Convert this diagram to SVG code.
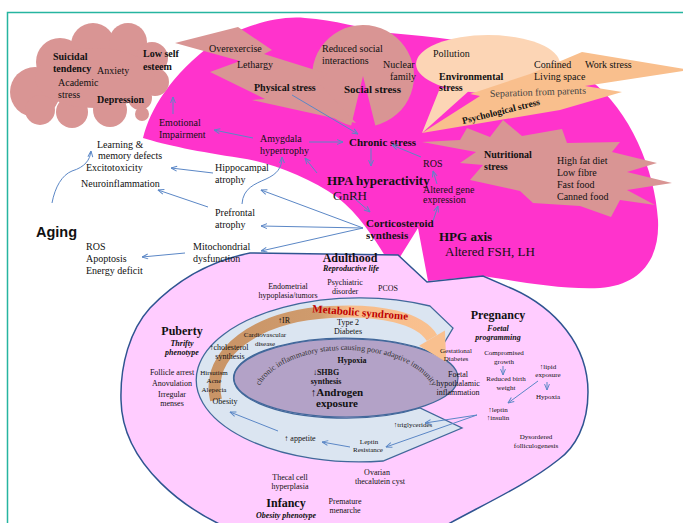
<svg xmlns="http://www.w3.org/2000/svg" width="683" height="523" viewBox="0 0 683 523">
<style>
.t{font-family:"Liberation Serif","Times New Roman",serif;fill:#111}
.f10{font-size:10px}.f8{font-size:8px}.f75{font-size:7px}.f85{font-size:8px}.f11{font-size:11px}.f12{font-size:12px}.f13{font-size:13px}
.b{font-weight:bold}.i{font-style:italic}.m{text-anchor:middle}
.c{fill:none;stroke:#5b87c6;stroke-width:1;marker-end:url(#ah)}
.dp{fill:#d99594}
.arc{font-family:"Liberation Serif","Times New Roman",serif;font-size:8px;fill:#333}
</style>
<defs>
<marker id="ah" viewBox="0 0 10 10" refX="9.5" refY="5" markerWidth="7" markerHeight="7" markerUnits="userSpaceOnUse" orient="auto"><path d="M1,1.5 L9.5,5 L1,8.5" fill="none" stroke="#5b87c6" stroke-width="1.4"/></marker>
<linearGradient id="og" gradientUnits="userSpaceOnUse" x1="210" y1="0" x2="450" y2="0"><stop offset="0" stop-color="#c99466"/><stop offset="0.45" stop-color="#cf9b6d"/><stop offset="0.58" stop-color="#f7bd8b"/><stop offset="1" stop-color="#f9c190"/></linearGradient>
<path id="arcText" d="M261.4,417.1 A90 50 0 1 1 430.6,417.1"/>
</defs>
<rect x="0" y="0" width="683" height="523" fill="#fff"/>
<rect x="7.5" y="12.5" width="690" height="520" fill="none" stroke="#26b5a0" stroke-width="1.5"/>

<g id="regions">
<path id="stress-field" fill="#ff33cc" d="M143,138 C150,110 170,75 215,42 C240,28 275,15 305,18 C335,20 360,28 390,33 C470,40 540,50 590,80 C630,110 655,170 658,220 C660,260 640,285 600,288 C560,290 510,280 483,276 L428,281 L418,228 L400,257 L387,259 C375,240 360,215 337,197 C310,178 270,162 240,158 C200,152 165,145 143,138 Z"/>
<path id="life-course" fill="#ffccff" stroke="#2f5491" stroke-width="1.5" d="M250,253 L398,255 L427,282 L483,276 L513,289 C555,308 588,345 588,392 C588,425 575,448 558,460 C520,490 470,510 420,540 L260,540 C180,515 122,460 121,400 C120,365 130,330 150,308 C172,285 205,262 250,253 Z"/>
<path id="metabolic-band" fill="#dbe5f1" stroke="#41689a" stroke-width="1.3" d="M430,306 A163 82 0 1 0 383,461 L462,428 L420,408 A112 40 0 1 1 437,355 L453,328 Z"/>
<ellipse id="inflammation-core" cx="346" cy="378" rx="112" ry="39" fill="#b3a2c7" stroke="#41689a" stroke-width="1.2"/>
<path d="M216,400 C205,352 258,316 330,312 C380,309 420,318 432,338" fill="none" stroke="url(#og)" stroke-width="12"/>
<polygon points="419.1,345.7 444.9,330.4 446.3,362.1" fill="#f9c08f"/>
</g>

<g id="psych-cloud">
<g class="dp">
<circle cx="35" cy="92" r="25"/><circle cx="60" cy="62" r="24"/><circle cx="93" cy="45" r="22"/><circle cx="128" cy="42" r="19"/><circle cx="152" cy="58" r="16"/><circle cx="155" cy="82" r="14"/><circle cx="140" cy="98" r="12"/><circle cx="110" cy="110" r="17"/><circle cx="72" cy="112" r="16"/><circle cx="40" cy="110" r="15"/><ellipse cx="95" cy="78" rx="60" ry="30"/><circle cx="142" cy="114" r="7"/>
</g>
<text class="t f10 b" x="53" y="60">Suicidal</text>
<text class="t f10 b" x="53" y="72">tendency</text>
<text class="t f10" x="97" y="74">Anxiety</text>
<text class="t f10" x="58" y="86">Academic</text>
<text class="t f10" x="58" y="98">stress</text>
<text class="t f10 b" x="97" y="103">Depression</text>
<text class="t f10 b" x="143" y="57">Low self</text>
<text class="t f10 b" x="143" y="70">esteem</text>
</g>

<g id="social-stress">
<path class="dp" d="M363,76 L351.2,125.6 A51 51 0 1 1 375.3,125.5 Z"/>
<text class="t f10" x="322" y="52">Reduced social</text>
<text class="t f10" x="322" y="64">interactions</text>
<text class="t f10" x="383" y="68">Nuclear</text>
<text class="t f10" x="390" y="80">family</text>
<text class="t f11 b" x="344" y="93">Social stress</text>
</g>

<g id="physical-stress">
<polygon class="dp" points="175,43 238,27 272,50 264,54 328,74 316,80 356,123 252,100 265,99 210,72 240,61"/>
<text class="t f10" x="209" y="52">Overexercise</text>
<text class="t f10" x="237" y="68">Lethargy</text>
<text class="t f10 b" x="254" y="91">Physical stress</text>
</g>

<g id="environmental-stress">
<ellipse cx="488" cy="64" rx="72" ry="29" fill="#fcd5b5"/>
<polygon points="440,88 422,133 470,90" fill="#fcd5b5"/>
<text class="t f10" x="433" y="57">Pollution</text>
<text class="t f10 b" x="439" y="80">Environmental</text>
<text class="t f10 b" x="439" y="91">stress</text>
</g>

<g id="psychological-stress">
<polygon points="422,133 480,96 470,94 530,74 582,52 690,70 585,86 622,92 560,110" fill="#f9bf8d"/>
<text class="t f10" x="534" y="68">Confined</text>
<text class="t f10" x="534" y="80">Living space</text>
<text class="t f10" x="585" y="68">Work stress</text>
<text class="t f10" x="490" y="97" style="fill:#444" transform="rotate(-2 490 97)">Separation from parents</text>
<text class="t b" style="font-size:9.5px" x="463" y="124" transform="rotate(-14 463 124)">Psychological stress</text>
</g>

<g id="nutritional-stress">
<polygon class="dp" points="422,142 460,140 467,128 490,137 503,120 522,136 562,129 567,143 620,142 612,152 657,163 627,172 672,183 627,190 655,205 620,200 611,217 580,206 533,203 520,191 470,180 483,165 460,163 476,152"/>
<text class="t f10 b" x="484" y="158">Nutritional</text>
<text class="t f10 b" x="484" y="170">stress</text>
<text class="t f10" x="557" y="164">High fat diet</text>
<text class="t f10" x="557" y="176">Low fibre</text>
<text class="t f10" x="557" y="188">Fast food</text>
<text class="t f10" x="557" y="200">Canned food</text>
</g>

<g id="emotional-impairment"><text class="t f10" x="159" y="126">Emotional</text><text class="t f10" x="159" y="138">Impairment</text></g>
<g id="amygdala"><text class="t f10" x="260" y="142">Amygdala</text><text class="t f10" x="260" y="154">hypertrophy</text></g>
<g id="chronic-stress"><text class="t f11 b" x="349" y="146">Chronic stress</text></g>
<g id="hpa"><text class="t f13 b" x="327" y="185">HPA hyperactivity</text><text class="t f13" x="333" y="200">GnRH</text></g>
<g id="corticosteroid"><text class="t f11 b" x="366" y="227">Corticosteroid</text><text class="t f11 b" x="366" y="239">synthesis</text></g>
<g id="ros-top"><text class="t f10" x="423" y="167">ROS</text></g>
<g id="gene-expression"><text class="t f10" x="423" y="193">Altered gene</text><text class="t f10" x="423" y="203">expression</text></g>
<g id="hpg"><text class="t f13 b" x="439" y="241">HPG axis</text><text class="t f13" x="445" y="256">Altered FSH, LH</text></g>

<g id="learning"><text class="t f10" x="97" y="148">Learning &amp;</text><text class="t f10" x="98" y="159">memory defects</text></g>
<g id="excitotoxicity"><text class="t f10" x="86" y="171">Excitotoxicity</text></g>
<g id="neuroinflammation"><text class="t f10" x="81" y="187">Neuroinflammation</text></g>
<g id="aging"><text x="36" y="237" style="font-family:'Liberation Sans',Arial,sans-serif;font-size:14.5px;font-weight:bold;fill:#111">Aging</text></g>
<g id="ros-left"><text class="t f10" x="86" y="250">ROS</text><text class="t f10" x="86" y="262">Apoptosis</text><text class="t f10" x="86" y="274">Energy deficit</text></g>
<g id="hippocampal"><text class="t f10" x="215" y="171">Hippocampal</text><text class="t f10" x="215" y="183">atrophy</text></g>
<g id="prefrontal"><text class="t f10" x="215" y="216">Prefrontal</text><text class="t f10" x="215" y="228">atrophy</text></g>
<g id="mitochondrial"><text class="t f10" x="193" y="250">Mitochondrial</text><text class="t f10" x="193" y="262">dysfunction</text></g>

<g id="adulthood">
<text class="t f12 b m" x="350" y="262">Adulthood</text>
<text class="t f8 b i m" x="351" y="271">Reproductive life</text>
<text class="t f8 m" x="288" y="289">Endometrial</text>
<text class="t f8 m" x="288" y="298">hypoplasia/tumors</text>
<text class="t f8 m" x="345" y="285">Psychiatric</text>
<text class="t f8 m" x="345" y="294">disorder</text>
<text class="t f8 m" x="388" y="291">PCOS</text>
</g>
<g id="metabolic-syndrome">
<text class="t f11 b m" x="360" y="316" style="fill:#c00000" transform="rotate(4.5 360 316)">Metabolic syndrome</text>
<text class="t f8 m" x="284" y="323">↑IR</text>
<text class="t f8 m" x="348" y="325">Type 2</text>
<text class="t f8 m" x="348" y="334">Diabetes</text>
<text class="t f75 m" x="265" y="337">Cardiovascular</text>
<text class="t f75 m" x="265" y="345.5">disease</text>
<text class="t f8 m" x="229" y="350">↑cholesterol</text>
<text class="t f8 m" x="230" y="359">synthesis</text>
<text class="t f75 m" x="214" y="374.5">Hirsutism</text>
<text class="t f75 m" x="214" y="383">Acne</text>
<text class="t f75 m" x="214" y="391.5">Alepecia</text>
<text class="t f8 m" x="225" y="404">Obesity</text>
</g>
<g id="puberty">
<text class="t f12 b m" x="182" y="335">Puberty</text>
<text class="t f8 b i m" x="182" y="346">Thrifty</text>
<text class="t f8 b i m" x="182" y="355">phenotype</text>
<text class="t f8 m" x="172" y="375">Follicle arrest</text>
<text class="t f8 m" x="172" y="386">Anovulation</text>
<text class="t f8 m" x="172" y="397">Irregular</text>
<text class="t f8 m" x="172" y="406">menses</text>
</g>
<g id="core">
<text class="arc"><textPath href="#arcText" startOffset="32.9">chronic</textPath></text>
<text class="arc"><textPath href="#arcText" startOffset="58.9">inflammatory</textPath></text>
<text class="arc"><textPath href="#arcText" startOffset="104.5">status</textPath></text>
<text class="arc"><textPath href="#arcText" startOffset="124.7">causing</textPath></text>
<text class="arc"><textPath href="#arcText" startOffset="151.1">poor</textPath></text>
<text class="arc"><textPath href="#arcText" startOffset="167.8">adaptive</textPath></text>
<text class="arc"><textPath href="#arcText" startOffset="196.9">immunity</textPath></text>
<text class="t f8 b m" x="352" y="363">Hypoxia</text>
<text class="t f8 b m" x="326" y="374.5">↓SHBG</text>
<text class="t f8 b m" x="326" y="383.5">synthesis</text>
<text class="t f11 b m" x="337" y="396">↑Androgen</text>
<text class="t f11 b m" x="337" y="407">exposure</text>
</g>
<g id="pregnancy">
<text class="t f12 b m" x="498" y="319">Pregnancy</text>
<text class="t f8 b i m" x="498" y="331">Foetal</text>
<text class="t f8 b i m" x="498" y="340">programming</text>
<text class="t f75 m" x="456" y="352.5">Gestational</text>
<text class="t f75 m" x="456" y="361">Diabetes</text>
<text class="t f85 m" x="458" y="376.5">Foetal</text>
<text class="t f85 m" x="458" y="385.5">hypothalamic</text>
<text class="t f85 m" x="458" y="394.5">inflammation</text>
<text class="t f75 m" x="504" y="355">Compromised</text>
<text class="t f75 m" x="504" y="363.5">growth</text>
<text class="t f75 m" x="506" y="381">Reduced birth</text>
<text class="t f75 m" x="506" y="389.5">weight</text>
<text class="t f75 m" x="548" y="368.5">↑lipid</text>
<text class="t f75 m" x="548" y="377">exposure</text>
<text class="t f75 m" x="548" y="399">Hypoxia</text>
<text class="t f75 m" x="498" y="411.5">↑leptin</text>
<text class="t f75 m" x="498" y="420">↑insulin</text>
<text class="t f75 m" x="536" y="439">Dysordered</text>
<text class="t f75 m" x="536" y="447.5">folliculogenesis</text>
</g>
<g id="leptin">
<text class="t f75 m" x="413" y="427">↑triglycerides</text>
<text class="t f75 m" x="369" y="443.5">Leptin</text>
<text class="t f75 m" x="368" y="452">Resistance</text>
<text class="t f8 m" x="300" y="441">↑ appetite</text>
</g>
<g id="infancy">
<text class="t f8 m" x="290" y="479.5">Thecal cell</text>
<text class="t f8 m" x="290" y="488.5">hyperplasia</text>
<text class="t f8 m" x="377" y="474.5">Ovarian</text>
<text class="t f8 m" x="380" y="483.5">thecalutein cyst</text>
<text class="t f12 b m" x="286" y="507">Infancy</text>
<text class="t f8 b i m" x="286" y="517.5">Obesity phenotype</text>
<text class="t f8 m" x="345" y="503.5">Premature</text>
<text class="t f8 m" x="345" y="512.5">menarche</text>
</g>

<g id="connectors">
<path class="c" d="M173,114 L173,97"/>
<path class="c" d="M253,138 L214,130"/>
<path class="c" d="M309,142 L343,142"/>
<path class="c" d="M292,95 L358,134"/>
<path class="c" d="M371,148 L371,166"/>
<path class="c" d="M421,157 L392,145"/>
<path class="c" d="M437,184 L433,171"/>
<path class="c" d="M433,221 L438,206"/>
<path class="c" d="M354,198 L370,212"/>
<path class="c" d="M317,173 L305,158"/>
<path class="c" d="M242,204 C243,188 255,184 266,179 C277,174 282,168 282,157"/>
<path class="c" d="M363,228 L261,190"/>
<path class="c" d="M363,228 L261,226"/>
<path class="c" d="M363,228 L261,251"/>
<path class="c" d="M213,173 L171,168"/>
<path class="c" d="M208,207 L158,190"/>
<path class="c" d="M185,253 L142,257"/>
<path class="c" d="M52,203 C55,187 62,175 72,171 C85,167 90,160 91,151"/>
<path class="c" d="M503,366 L503,375"/>
<path class="c" d="M547,382 L547,390"/>
<path class="c" d="M538,381 L508,403"/>
<path class="c" d="M477,415 L425,423"/>
<path class="c" d="M477,415 L386,447"/>
<path class="c" d="M350,447 L322,442"/>
<path class="c" d="M278,431 L230,412"/>
</g>
</svg>
